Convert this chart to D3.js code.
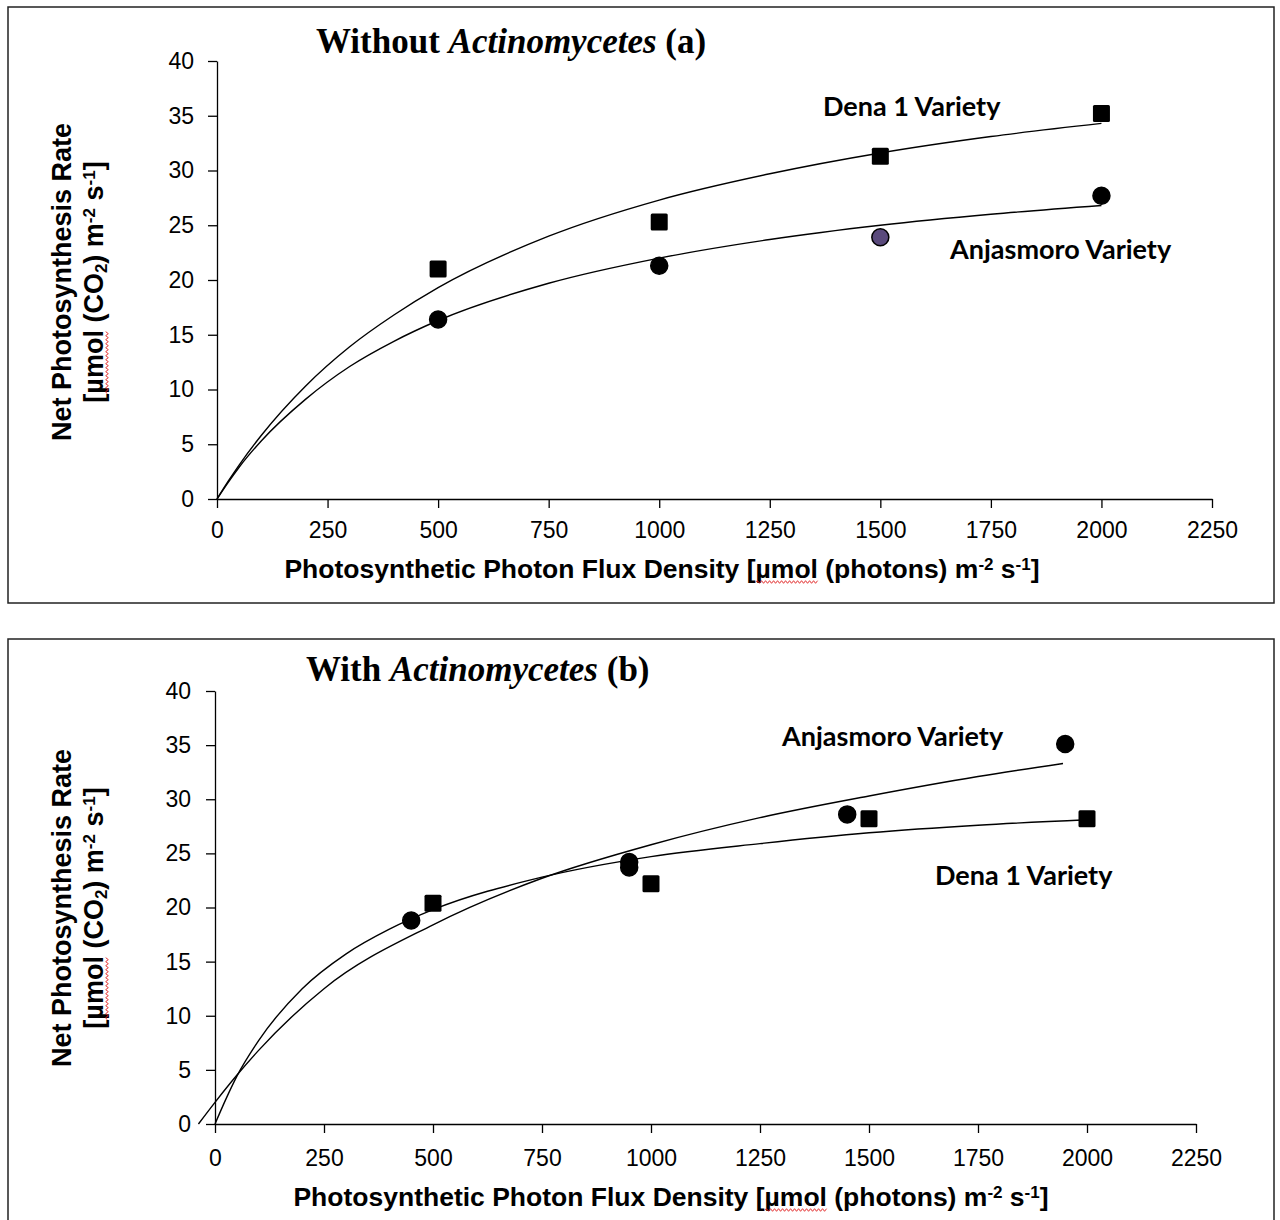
<!DOCTYPE html>
<html><head><meta charset="utf-8">
<script src="https://cdn.jsdelivr.net/npm/d3@7"></script>
<style>body{margin:0;background:#fff}</style>
</head><body>
<svg id="chart" width="1280" height="1220"></svg>
<script>
// ---------- data ----------
const xTickValues = [0,250,500,750,1000,1250,1500,1750,2000,2250];
const yTickValues = [0,5,10,15,20,25,30,35,40];

// Panel (a) Without Actinomycetes
const aDenaX = [500,1000,1500,2000];
const aDenaY = [21.0,25.3,31.3,35.2];
const aAnjaX = [500,1000,1500,2000];
const aAnjaY = [16.4,21.3,23.9,27.7];
const aAnjaFill = ["#000","#000","#5a4a7c","#000"];
const aDenaCurveX = [0,25,50,100,200,300,400,500,750,1000,1250,1500,1750,2000];
const aDenaCurveY = [0,1.6,3.1,5.8,10.3,13.9,16.8,19.3,24.0,27.3,29.7,31.6,33.1,34.3];
const aAnjaCurveX = [0,25,50,100,200,300,400,500,750,1000,1250,1500,1750,2000];
const aAnjaCurveY = [0,1.5,2.9,5.3,9.1,12.1,14.4,16.3,19.7,22.0,23.7,25.0,26.0,26.8];

// Panel (b) With Actinomycetes
const bAnjaX = [450,950,950,1450,1950];
const bAnjaY = [18.8,24.2,23.7,28.6,35.1];
const bDenaX = [500,1000,1500,2000];
const bDenaY = [20.4,22.2,28.2,28.2];
const bDenaCurveX = [0,25,50,100,200,300,400,500,750,1000,1250,1500,1750,2000];
const bDenaCurveY = [0,2.3,4.4,7.7,12.5,15.7,18.0,19.8,22.8,24.7,25.9,26.9,27.6,28.1];
const bAnjaCurveX = [-38,0,50,100,250,500,750,1000,1250,1500,1750,1945];
const bAnjaCurveY = [0,2.0,4.5,6.8,12.5,18.4,22.7,25.8,28.3,30.3,32.1,33.3];

const titleA = ["Without ", "Actinomycetes", " (a)"];
const titleB = ["With ", "Actinomycetes", " (b)"];
const labelDena = "Dena 1 Variety";
const labelAnja = "Anjasmoro Variety";

// ---------- layout ----------
const svg = d3.select("#chart");
const TICKFONT = "'Liberation Sans', Arial, sans-serif";
const LABELFONT = "Lato, 'Open Sans', sans-serif";

function squiggle(parent, x0, x1, y) {
  let d = `M${x0},${y}`;
  let up = true;
  for (let xx = x0 + 2; xx <= x1; xx += 2) { d += `L${xx},${y + (up ? -1.3 : 1.3)}`; up = !up; }
  parent.append("path").attr("d", d).attr("fill", "none").attr("stroke", "#e02020").attr("stroke-width", 0.9);
}

function drawPanel(p) {
  const g = svg.append("g");
  g.append("rect").attr("x", p.box[0]).attr("y", p.box[1]).attr("width", p.box[2]).attr("height", p.box[3])
    .attr("fill", "none").attr("stroke", "#222").attr("stroke-width", 1.5);

  const x = d3.scaleLinear().domain([0, 2250]).range([p.x0, p.x1]);
  const y = d3.scaleLinear().domain([0, 40]).range([p.y0, p.y1]);

  const xa = g.append("g").attr("transform", `translate(0,${p.y0})`)
    .call(d3.axisBottom(x).tickValues(xTickValues).tickSize(9).tickSizeOuter(0).tickPadding(p.xpad).tickFormat(d3.format("d")));
  const ya = g.append("g").attr("transform", `translate(${p.x0},0)`)
    .call(d3.axisLeft(y).tickValues(yTickValues).tickSize(9).tickSizeOuter(0).tickPadding(p.ypad).tickFormat(d3.format("d")));
  [xa, ya].forEach(a => {
    a.attr("font-family", TICKFONT).attr("font-size", 23);
    a.selectAll("path,line").attr("stroke", "#000").attr("stroke-width", 1.3);
    a.selectAll("text").attr("fill", "#000");
  });

  // curves
  const line = d3.line().x(d => x(d[0])).y(d => y(d[1])).curve(d3.curveMonotoneX);
  p.curves.forEach(c => {
    g.append("path").datum(d3.zip(c.x, c.y)).attr("d", line)
      .attr("fill", "none").attr("stroke", "#000").attr("stroke-width", 1.4);
  });

  // markers
  p.squares.forEach(s => {
    g.selectAll(null).data(d3.zip(s.x, s.y)).join("rect")
      .attr("x", d => x(d[0]) - 8.5).attr("y", d => y(d[1]) - 8.5)
      .attr("width", 17).attr("height", 17).attr("rx", 1.5).attr("fill", "#000");
  });
  p.circles.forEach(s => {
    g.selectAll(null).data(d3.zip(s.x, s.y, s.fill || s.x.map(() => "#000"))).join("circle")
      .attr("cx", d => x(d[0])).attr("cy", d => y(d[1])).attr("r", 8.5)
      .attr("fill", d => d[2]).attr("stroke", "#000").attr("stroke-width", 1.5);
  });

  // title
  const t = g.append("text").attr("x", p.titlePos[0]).attr("y", p.titlePos[1])
    .attr("font-family", "'Liberation Serif', 'Times New Roman', serif").attr("font-size", 35).attr("font-weight", "bold").attr("fill", "#000");
  t.append("tspan").text(p.title[0]);
  t.append("tspan").attr("font-style", "italic").text(p.title[1]);
  t.append("tspan").text(p.title[2]);

  // variety labels
  p.labels.forEach(l => {
    g.append("text").attr("x", l.pos[0]).attr("y", l.pos[1]).text(l.text)
      .attr("font-family", LABELFONT).attr("font-weight", "bold").attr("font-size", 27).attr("fill", "#000");
  });

  // x axis title
  const xt = g.append("text").attr("x", (p.xTitle[0])).attr("y", p.xTitle[1]).attr("text-anchor", "middle")
    .attr("font-family", TICKFONT).attr("font-weight", "bold").attr("font-size", 26.5).attr("fill", "#000");
  xt.append("tspan").text("Photosynthetic Photon Flux Density [\u00b5mol (photons) m");
  xt.append("tspan").attr("font-size", 17).attr("baseline-shift", "45%").text("-2");
  xt.append("tspan").text(" s");
  xt.append("tspan").attr("font-size", 17).attr("baseline-shift", "45%").text("-1");
  xt.append("tspan").text("]");
  {
    const full = xt.text(); const i = full.indexOf("\u00b5");
    const s0 = xt.node().getStartPositionOfChar(i).x, s1 = xt.node().getEndPositionOfChar(i + 3).x;
    squiggle(g, s0, s1, p.xTitle[1] + 4);
  }

  // y axis title (two lines, rotated)
  const yg = g.append("g").attr("transform", `translate(${p.yTitle[0]},${p.yTitle[1]}) rotate(-90)`);
  yg.append("text").attr("x", 0).attr("y", 0).attr("text-anchor", "middle")
    .attr("font-family", TICKFONT).attr("font-weight", "bold").attr("font-size", 27).attr("fill", "#000")
    .text("Net Photosynthesis Rate");
  const y2 = yg.append("text").attr("x", 0).attr("y", 32).attr("text-anchor", "middle")
    .attr("font-family", TICKFONT).attr("font-weight", "bold").attr("font-size", 27).attr("fill", "#000");
  y2.append("tspan").text("[\u00b5mol (CO");
  y2.append("tspan").attr("font-size", 17).attr("baseline-shift", "-25%").text("2");
  y2.append("tspan").text(") m");
  y2.append("tspan").attr("font-size", 17).attr("baseline-shift", "45%").text("-2");
  y2.append("tspan").text(" s");
  y2.append("tspan").attr("font-size", 17).attr("baseline-shift", "45%").text("-1");
  y2.append("tspan").text("]");
  {
    const s0 = y2.node().getStartPositionOfChar(1).x, s1 = y2.node().getEndPositionOfChar(4).x;
    squiggle(yg, s0, s1, 36);
  }
}

drawPanel({
  box: [8, 7, 1266, 596],
  x0: 217, x1: 1212, y0: 499, y1: 61, xpad: 14, ypad: 14,
  curves: [{x: aDenaCurveX, y: aDenaCurveY}, {x: aAnjaCurveX, y: aAnjaCurveY}],
  squares: [{x: aDenaX, y: aDenaY}],
  circles: [{x: aAnjaX, y: aAnjaY, fill: aAnjaFill}],
  title: titleA, titlePos: [316, 53],
  labels: [{text: labelDena, pos: [823, 116]}, {text: labelAnja, pos: [950, 259]}],
  xTitle: [662, 578], yTitle: [71, 282]
});
drawPanel({
  box: [8, 639, 1266, 620],
  x0: 215, x1: 1196, y0: 1124, y1: 691, xpad: 17, ypad: 15,
  curves: [{x: bDenaCurveX, y: bDenaCurveY}, {x: bAnjaCurveX, y: bAnjaCurveY}],
  squares: [{x: bDenaX, y: bDenaY}],
  circles: [{x: bAnjaX, y: bAnjaY}],
  title: titleB, titlePos: [306, 681],
  labels: [{text: labelAnja, pos: [782, 746]}, {text: labelDena, pos: [935, 885]}],
  xTitle: [671, 1206], yTitle: [71, 908]
});
</script>
</body></html>
